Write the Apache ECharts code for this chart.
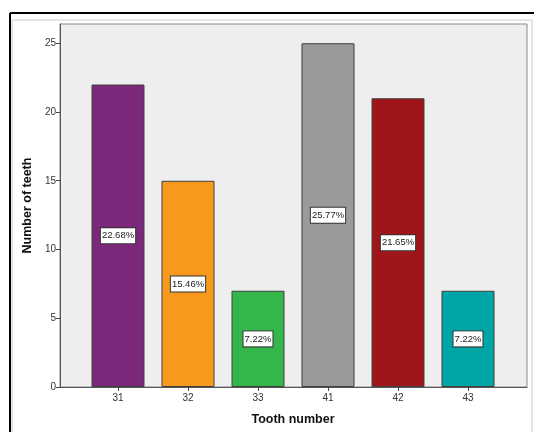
<!DOCTYPE html>
<html>
<head>
<meta charset="utf-8">
<script src="https://cdn.jsdelivr.net/npm/echarts@6/dist/echarts.min.js"></script>
<style>
html,body{margin:0;padding:0;background:#fff;}
#chart{width:534px;height:432px;}
</style>
</head>
<body>
<div id="chart"></div>
<script>
var categories = ['31', '32', '33', '41', '42', '43'];
var counts = [22, 15, 7, 25, 21, 7];
var barColors = ['#7B287A', '#F7991C', '#33B74A', '#9A9A9A', '#A0151A', '#00A6A6'];
var yTicks = [0, 5, 10, 15, 20, 25];

var total = counts.reduce(function (a, b) { return a + b; }, 0);
var chart = echarts.init(document.getElementById('chart'), null, {renderer: 'canvas'});
var font = 'Arial, "Liberation Sans", sans-serif';

chart.setOption({
  animation: false,
  backgroundColor: '#ffffff',
  graphic: [
    {type: 'rect', z: -10, shape: {x: 12, y: 20, width: 520, height: 430}, style: {fill: 'none', stroke: '#cccccc', lineWidth: 1}},
    {type: 'line', z: -10, shape: {x1: 10, y1: 13, x2: 534, y2: 13}, style: {stroke: '#000', lineWidth: 2}},
    {type: 'line', z: -10, shape: {x1: 10, y1: 13, x2: 10, y2: 432}, style: {stroke: '#000', lineWidth: 2}}
  ],
  grid: [
    {left: 83, right: 31, top: 24, bottom: 45, containLabel: false},
    {left: 60, right: 7, top: 24, bottom: 45, show: true, backgroundColor: '#EEEEEE', borderColor: '#888888', borderWidth: 1, z: -1}
  ],
  xAxis: [
    {
      type: 'category', gridIndex: 0, data: categories,
      name: 'Tooth number', nameLocation: 'middle', nameGap: 26,
      nameTextStyle: {fontFamily: font, fontSize: 12.5, fontWeight: 'bold', color: '#111'},
      axisLine: {show: false},
      axisTick: {show: true, alignWithLabel: true, length: 4, lineStyle: {color: '#444'}},
      axisLabel: {fontFamily: font, fontSize: 10, color: '#333', margin: 6}
    },
    {
      type: 'value', gridIndex: 1, min: 0, max: 1,
      axisLine: {show: true, lineStyle: {color: '#555', width: 1}},
      axisTick: {show: false}, axisLabel: {show: false}, splitLine: {show: false}
    }
  ],
  yAxis: [
    {
      type: 'value', gridIndex: 0, min: 0, max: 26.4, interval: 5, offset: 23,
      name: 'Number of teeth', nameLocation: 'middle', nameGap: 23,
      nameTextStyle: {fontFamily: font, fontSize: 12.5, fontWeight: 'bold', color: '#111'},
      axisLine: {show: false},
      axisTick: {show: true, length: 4, customValues: yTicks, lineStyle: {color: '#444'}},
      axisLabel: {fontFamily: font, fontSize: 10, color: '#333', margin: 4, customValues: yTicks},
      splitLine: {show: false}
    },
    {
      type: 'value', gridIndex: 1, min: 0, max: 1,
      axisLine: {show: true, lineStyle: {color: '#555', width: 1}},
      axisTick: {show: false}, axisLabel: {show: false}, splitLine: {show: false}
    }
  ],
  series: [{
    type: 'bar', xAxisIndex: 0, yAxisIndex: 0, barWidth: 53,
    data: counts.map(function (v, i) {
      return {value: v, itemStyle: {color: barColors[i]}};
    }),
    itemStyle: {borderColor: '#404040', borderWidth: 1},
    label: {
      show: true, position: 'inside',
      formatter: function (p) { return (p.value / total * 100).toFixed(2) + '%'; },
      fontFamily: font, fontSize: 9.5, color: '#222', lineHeight: 11,
      backgroundColor: '#ffffff', borderColor: '#333', borderWidth: 1, padding: [2, 1, 2, 1]
    }
  }]
});
</script>
</body>
</html>
